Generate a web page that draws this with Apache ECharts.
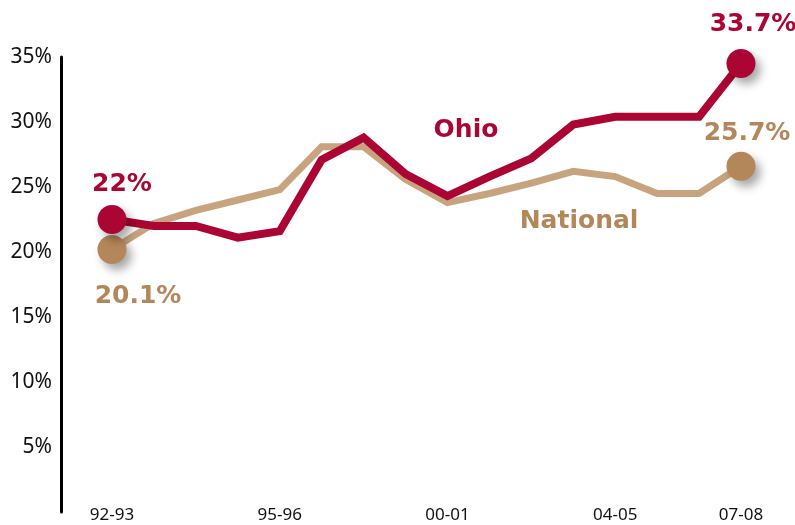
<!DOCTYPE html>
<html>
<head>
<meta charset="utf-8">
<script src="https://cdn.jsdelivr.net/npm/echarts@6/dist/echarts.min.js"></script>
<style>html,body{margin:0;padding:0;background:#fff;}#c{width:795px;height:525px;}</style>
</head>
<body>
<div id="c"></div>
<script>
const categories = ['92-93','93-94','94-95','95-96','96-97','97-98','98-99','99-00','00-01','01-02','02-03','03-04','04-05','05-06','06-07','07-08'];
const tickLabels = ['92-93','','','','95-96','','','','00-01','','','','04-05','','','07-08'];
const ohio     = [22.5, 22.0, 22.0, 21.1, 21.6, 27.1, 28.8, 26.0, 24.3, 25.8, 27.2, 29.8, 30.4, 30.4, 30.4, 34.5];
const national = [20.2, 22.2, 23.2, 24.0, 24.8, 28.1, 28.1, 25.6, 23.8, 24.5, 25.3, 26.2, 25.8, 24.5, 24.5, 26.6];
const ohioName = 'Ohio';
const nationalName = 'National';
const ohioEndLabels = ['22%', '33.7%'];
const nationalEndLabels = ['20.1%', '25.7%'];

const OHIO = '#AA0533';
const NAT_LINE = '#C8A47E';
const NAT_DOT = '#B3875A';
const BOLD = 'DejaVu Sans';

function buildData(vals, dotColor, labels, labelCfg) {
  return vals.map((v, i) => {
    if (i !== 0 && i !== vals.length - 1) return v;
    const k = i === 0 ? 0 : 1;
    return {
      value: v,
      symbol: 'circle',
      symbolSize: 29,
      itemStyle: {
        color: dotColor,
        shadowBlur: 10,
        shadowColor: 'rgba(0,0,0,0.35)',
        shadowOffsetX: 5,
        shadowOffsetY: 6
      },
      label: Object.assign({
        show: true,
        formatter: labels[k],
        fontFamily: BOLD,
        fontWeight: 'bold',
        fontSize: 25,
        color: dotColor
      }, labelCfg[k])
    };
  });
}

const chart = echarts.init(document.getElementById('c'), null, {renderer: 'canvas'});
chart.setOption({
  animation: false,
  backgroundColor: '#fff',
  grid: {left: 112, right: 54, top: 57, bottom: 13, containLabel: false},
  xAxis: {
    type: 'category',
    data: categories,
    boundaryGap: false,
    axisLine: {show: false},
    axisTick: {show: false},
    splitLine: {show: false},
    axisLabel: {
      interval: 0,
      margin: -5,
      formatter: (v, i) => tickLabels[i],
      fontFamily: 'Noto Sans',
      fontSize: 17,
      color: '#111'
    }
  },
  yAxis: {
    type: 'value',
    min: 0, max: 35, interval: 5,
    offset: 51,
    axisLine: {show: true, lineStyle: {color: '#000', width: 3}},
    axisTick: {show: false},
    splitLine: {show: false},
    axisLabel: {
      margin: 9,
      formatter: v => v === 0 ? '' : v + '%',
      fontFamily: 'Noto Sans',
      fontSize: 21,
      color: '#111'
    }
  },
  graphic: [
    {type: 'text', x: 466, y: 130, style: {text: ohioName, align: 'center', verticalAlign: 'middle', fontFamily: BOLD, fontWeight: 'bold', fontSize: 25, fill: OHIO}},
    {type: 'text', x: 579, y: 221, style: {text: nationalName, align: 'center', verticalAlign: 'middle', fontFamily: BOLD, fontWeight: 'bold', fontSize: 25, fill: NAT_DOT}}
  ],
  series: [
    {
      name: nationalName,
      type: 'line',
      symbol: 'none',
      showSymbol: true,
      z: 2,
      lineStyle: {color: NAT_LINE, width: 7, join: 'miter', cap: 'butt'},
      itemStyle: {color: NAT_DOT},
      data: buildData(national, NAT_DOT, nationalEndLabels, [
        {position: 'bottom', distance: 20, offset: [26, 0]},
        {position: 'top', distance: 6, offset: [6, 0]}
      ])
    },
    {
      name: ohioName,
      type: 'line',
      symbol: 'none',
      showSymbol: true,
      z: 3,
      lineStyle: {color: OHIO, width: 8, join: 'miter', cap: 'butt'},
      itemStyle: {color: OHIO},
      data: buildData(ohio, OHIO, ohioEndLabels, [
        {position: 'top', distance: 8, offset: [10, 0]},
        {position: 'top', distance: 12, offset: [12, 0]}
      ])
    }
  ]
});
</script>
</body>
</html>
